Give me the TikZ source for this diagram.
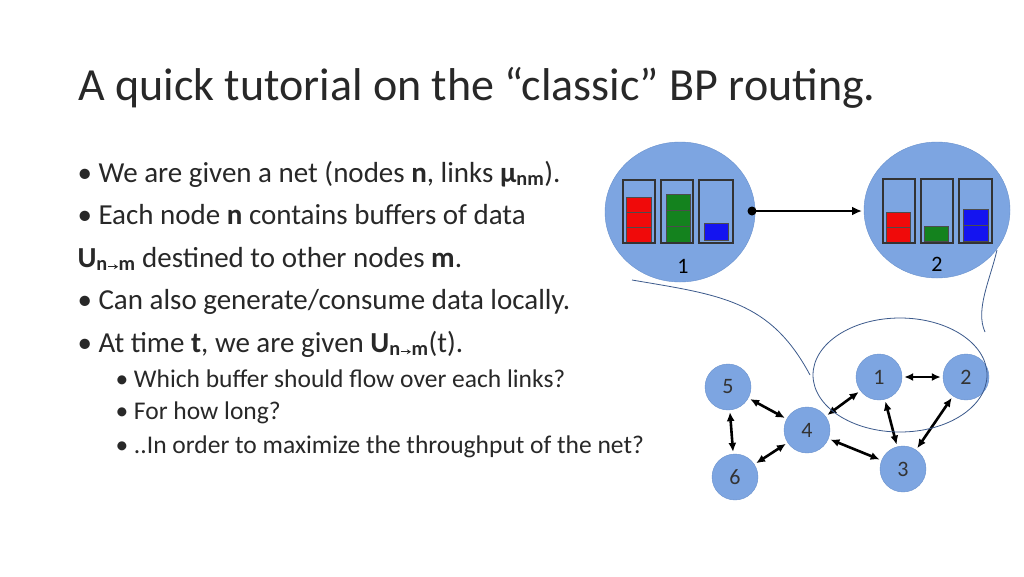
\documentclass[tikz,border=0pt]{standalone}
\usepackage{fontspec}
\setmainfont{Carlito}
\usetikzlibrary{arrows.meta}
\definecolor{nodeblue}{RGB}{125,165,225}
\definecolor{nodeedge}{RGB}{105,145,205}
\definecolor{lineblue}{RGB}{60,90,140}
\definecolor{txt}{RGB}{40,40,40}
\definecolor{bred}{RGB}{240,10,10}
\definecolor{bgreen}{RGB}{20,130,30}
\definecolor{bblue}{RGB}{20,20,240}
\newcommand{\subarr}{\textbf{n}\raisebox{0.05em}{\tikz[baseline]\draw[line width=1.3pt,-{Stealth[length=4pt,width=5pt]}] (0,3pt) -- (10pt,3pt);}\textbf{m}}
\begin{document}
\begin{tikzpicture}[x=1pt,y=-1pt,
  bubble/.style={circle,fill=nodeblue,draw=nodeedge,minimum size=46pt,inner sep=0pt,font=\fontsize{22}{22}\selectfont,text=black!80},
  link/.style={{Latex[length=9pt,width=8pt]}-{Latex[length=9pt,width=8pt]},line width=2.6pt,shorten <=2pt,shorten >=2pt},
  buf/.style={draw=black!80,line width=1.2pt},
  blk/.style={draw=black!70,line width=0.5pt},
  btxt/.style={anchor=base west,font=\fontsize{29}{29}\selectfont,text=txt},
  stxt/.style={anchor=base west,font=\fontsize{25.5}{25.5}\selectfont,text=txt}]
\useasboundingbox (0,0) rectangle (1024,576);
\fill[white] (0,0) rectangle (1024,576);
\node[anchor=base west,font=\fontsize{46}{46}\selectfont,text=txt,inner sep=0pt] (title) at (78,100) {A quick tutorial on the “classic” BP routing.};
\node[btxt] (l1) at (74,182) {• We are given a net (nodes \textbf{n}, links \textbf{μ}\textsubscript{\textbf{nm}}).};
\node[btxt] (l2) at (74,224) {• Each node \textbf{n} contains buffers of data};
\node[btxt] (l3) at (74,267) {\textbf{U}\textsubscript{\subarr} destined to other nodes \textbf{m}.};
\node[btxt] (l4) at (74,309) {• Can also generate/consume data locally.};
\node[btxt] (l5) at (74,352) {• At time \textbf{t}, we are given \textbf{U}\textsubscript{\subarr}(t).};
\node[stxt] (s1) at (112,387) {• Which buffer should flow over each links?};
\node[stxt] (s2) at (112,419) {• For how long?};
\node[stxt] (s3) at (112,453) {• ..In order to maximize the throughput of the net?};
% big nodes
\fill[nodeblue] (680,212) ellipse (75 and 70);
\draw[nodeedge] (680,212) ellipse (75 and 70);
\fill[nodeblue] (937,210) ellipse (73 and 68);
\draw[nodeedge] (937,210) ellipse (73 and 68);
\node[font=\fontsize{22}{22}\selectfont] (b1) at (683,266) {1};
\node[font=\fontsize{22}{22}\selectfont] (b2) at (937,264) {2};
% buffers node 1
\foreach \i in {0,1,2} \draw[blk,fill=bred] (626,197+\i*15.3) rectangle (651,212.3+\i*15.3);
\foreach \i in {0,1,2} \draw[blk,fill=bgreen] (666,194+\i*16) rectangle (690,210+\i*16);
\draw[blk,fill=bblue] (704,223) rectangle (728,240);
\draw[buf] (623,180) rectangle (655,243);
\draw[buf] (661,180) rectangle (693,243);
\draw[buf] (699,180) rectangle (733,243);
% buffers node 2
\foreach \i in {0,1} \draw[blk,fill=bred] (886,212+\i*15.5) rectangle (910,227.5+\i*15.5);
\draw[blk,fill=bgreen] (924,226) rectangle (948,241);
\foreach \i in {0,1} \draw[blk,fill=bblue] (963,209+\i*16) rectangle (988,225+\i*16);
\draw[buf] (883,179) rectangle (915,243);
\draw[buf] (921,179) rectangle (953,243);
\draw[buf] (959,179) rectangle (992,243);
\coordinate (as) at (752,211);
\coordinate (ae) at (862,211);
\fill (as) circle (4.5);
\draw[line width=2.6pt,-{Latex[length=10pt,width=9pt]}] (as) -- (ae);
% small graph
\node[bubble] (n5) at (728,387) {5};
\node[bubble] (n4) at (807,430) {4};
\node[bubble] (n6) at (735,477) {6};
\node[bubble] (n1) at (879,377) {1};
\node[bubble] (n2) at (966,377) {2};
\node[bubble] (n3) at (903,469) {3};
\draw[link] (n1) -- (n2);
\draw[link] (n5) -- (n4);
\draw[link] (n5) -- (n6);
\draw[link] (n4) -- (n1);
\draw[link] (n4) -- (n6);
\draw[link] (n4) -- (n3);
\draw[link] (n1) -- (n3);
\draw[link] (n2) -- (n3);
\draw[lineblue,line width=0.8pt] (900,375) ellipse (87 and 57);
\coordinate (c1a) at (632,280);
\coordinate (c1b) at (810,375);
\coordinate (c2a) at (997,250);
\coordinate (c2b) at (985,332);
\draw[lineblue,line width=0.8pt] (c1a) .. controls (720,295) and (770,300) .. (c1b);
\draw[lineblue,line width=0.8pt] (c2a) .. controls (990,280) and (975,310) .. (c2b);
\end{tikzpicture}
\end{document}
